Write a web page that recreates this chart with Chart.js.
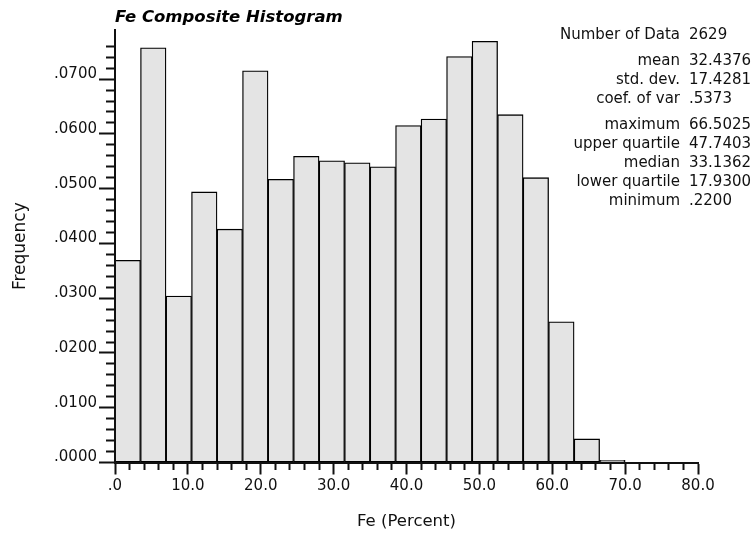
<!DOCTYPE html>
<html>
<head>
<meta charset="utf-8">
<title>Fe Composite Histogram</title>
<script src="https://cdn.jsdelivr.net/npm/chart.js@4.4.0/dist/chart.umd.min.js"></script>
<style>
  html, body { margin: 0; padding: 0; background: #fff; }
  #wrap { width: 754px; height: 533px; }
</style>
</head>
<body>
<div id="wrap"><canvas id="histChart"></canvas></div>
<script>
// histogram bins (Fe %, lower edge of each bin)
const binStarts = [0, 3.5, 7, 10.5, 14, 17.5, 21, 24.5, 28, 31.5, 35, 38.5, 42, 45.5, 49, 52.5, 56, 59.5, 63, 66.5];
const binWidth = 3.5;
const frequencies = [0.0369, 0.0757, 0.0304, 0.0494, 0.0426, 0.0715, 0.0517, 0.0559, 0.0551, 0.0547,
  0.0540, 0.0615, 0.0627, 0.0741, 0.0769, 0.0635, 0.0520, 0.0257, 0.0043, 0.0004];

const xTickValues = [0, 10, 20, 30, 40, 50, 60, 70, 80];
const xTickLabels = ['.0', '10.0', '20.0', '30.0', '40.0', '50.0', '60.0', '70.0', '80.0'];
const yTickValues = [0, 0.01, 0.02, 0.03, 0.04, 0.05, 0.06, 0.07];
const yTickLabels = ['.0000', '.0100', '.0200', '.0300', '.0400', '.0500', '.0600', '.0700'];

const statLabels = ['Number of Data', 'mean', 'std. dev.', 'coef. of var', 'maximum', 'upper quartile', 'median', 'lower quartile', 'minimum'];
const statValues = ['2629', '32.4376', '17.4281', '.5373', '66.5025', '47.7403', '33.1362', '17.9300', '.2200'];
const statGroups = [0, 1, 1, 1, 2, 2, 2, 2, 2];

const FONT = 'DejaVu Sans';
const INK = '#111';

const near = (a, b) => Math.abs(a - b) < 1e-6;
const xIsMajor = (v) => xTickValues.some((t) => near(t, v));
const yIsMajor = (v) => yTickValues.some((t) => near(t, v));
const yOnStep = (v) => near(v * 500, Math.round(v * 500));

const statsPlugin = {
  id: 'stats',
  afterDraw(chart) {
    const ctx = chart.ctx;
    const labelRight = chart.width - 74;
    const valueLeft = chart.width - 65;
    ctx.save();
    ctx.font = '15px "' + FONT + '"';
    ctx.fillStyle = INK;
    ctx.textBaseline = 'middle';
    statLabels.forEach((label, i) => {
      const y = 35.5 + i * 18.9 + statGroups[i] * 7;
      ctx.textAlign = 'right';
      ctx.fillText(label, labelRight, y);
      ctx.textAlign = 'left';
      ctx.fillText(statValues[i], valueLeft, y);
    });
    ctx.restore();
  },
};

const histChart = new Chart(document.getElementById('histChart'), {
  type: 'bar',
  data: {
    datasets: [
      {
        data: binStarts.map((s, i) => ({ x: s + binWidth / 2, y: frequencies[i] })),
        xAxisID: 'xb',
        yAxisID: 'y',
        backgroundColor: '#e4e4e4',
        borderColor: '#000',
        borderWidth: 1.3,
        borderSkipped: false,
        barPercentage: 1,
        categoryPercentage: 1,
      },
    ],
  },
  options: {
    responsive: true,
    maintainAspectRatio: false,
    animation: false,
    layout: { padding: { left: 0, right: 56, top: 0, bottom: 0 } },
    plugins: {
      legend: { display: false },
      tooltip: { enabled: false },
      title: {
        display: true,
        text: 'Fe Composite Histogram',
        align: 'start',
        fullSize: false,
        color: '#000',
        font: { family: FONT, size: 16.5, weight: 'bold', style: 'italic' },
        padding: { top: 8, bottom: 2 },
      },
    },
    scales: {
      // hidden axis the bars sit on, its ticks are the bin edges
      xb: {
        type: 'linear',
        display: false,
        min: 0,
        max: 80,
        offset: false,
        grid: { offset: false },
        afterBuildTicks: (s) => {
          s.ticks = binStarts.map((v) => ({ value: v }));
        },
      },
      x: {
        type: 'linear',
        position: 'bottom',
        min: 0,
        max: 80,
        offset: false,
        afterFit: (s) => {
          s.height = 70.5;
        },
        border: { display: true, color: INK, width: 2, z: 1 },
        grid: {
          offset: false,
          drawOnChartArea: false,
          tickLength: 12,
          tickWidth: 2,
          tickColor: INK,
          tickBorderDash: (ctx) => (ctx.tick && xIsMajor(ctx.tick.value) ? [] : [6, 100]),
        },
        ticks: {
          stepSize: 2,
          autoSkip: false,
          maxRotation: 0,
          padding: 3,
          color: INK,
          font: { family: FONT, size: 15 },
          callback: (v) => {
            const i = xTickValues.findIndex((t) => near(t, v));
            return i >= 0 ? xTickLabels[i] : '';
          },
        },
        title: {
          display: true,
          text: 'Fe (Percent)',
          color: INK,
          font: { family: FONT, size: 16.5 },
          padding: { top: 0, bottom: 1 },
        },
      },
      y: {
        type: 'linear',
        position: 'left',
        min: 0,
        max: 0.079,
        afterFit: (s) => {
          s.width = 115;
        },
        border: { display: true, color: INK, width: 2, z: 1 },
        grid: {
          drawOnChartArea: false,
          tickLength: 16,
          tickWidth: 2,
          tickColor: (ctx) => (ctx.tick && yOnStep(ctx.tick.value) ? INK : 'rgba(0,0,0,0)'),
          tickBorderDash: (ctx) => (ctx.tick && yIsMajor(ctx.tick.value) ? [] : [0, 7, 9, 100]),
        },
        ticks: {
          stepSize: 0.002,
          autoSkip: false,
          padding: 2,
          labelOffset: -5,
          color: INK,
          font: { family: FONT, size: 15 },
          callback: (v) => {
            const i = yTickValues.findIndex((t) => near(t, v));
            return i >= 0 ? yTickLabels[i] : '';
          },
        },
        title: {
          display: true,
          text: 'Frequency',
          color: INK,
          font: { family: FONT, size: 17 },
          padding: { top: 10, bottom: 0 },
        },
      },
    },
  },
  plugins: [statsPlugin],
});
</script>
</body>
</html>
